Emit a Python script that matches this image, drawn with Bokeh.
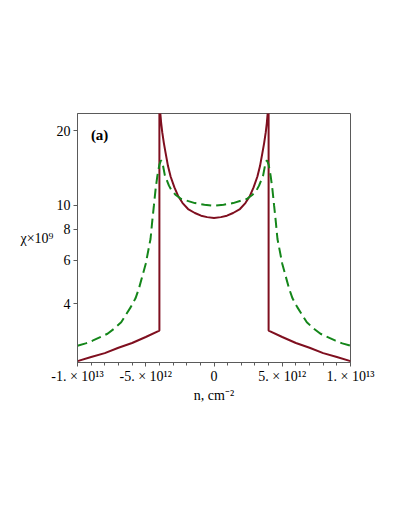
from bokeh.plotting import figure
from bokeh.models import Range1d, FixedTicker, Label, BasicTickFormatter
from bokeh.embed import file_html
from bokeh.resources import INLINE

# carrier density n in units of 1e12 cm^-2
red_n = [-10, -9, -8, -7, -6, -5, -4, -4, -3.93, -3.87, -3.79, -3.67, -3.54, -3.37,
         -3.18, -2.9, -2.63, -2.3, -1.9, -1.4, -0.95, -0.5, 0, 0.5, 0.95, 1.4, 1.9,
         2.3, 2.63, 2.9, 3.18, 3.37, 3.54, 3.67, 3.79, 3.87, 3.93, 4, 4, 5, 6, 7, 8, 9, 10]
red_chi = [2.34, 2.43, 2.52, 2.65, 2.77, 2.93, 3.11, 26, 23.4, 21.5, 19.7, 17.8, 16.2, 14.4,
           13.07, 11.8, 10.9, 10.2, 9.65, 9.3, 9.07, 8.95, 8.88, 8.95, 9.07, 9.3, 9.65,
           10.2, 10.9, 11.8, 13.07, 14.4, 16.2, 17.8, 19.7, 21.5, 23.4, 26, 3.11, 2.93, 2.77,
           2.65, 2.52, 2.43, 2.34]

green_n = [-10, -9.4, -8.9, -7.8, -7.3, -6.8, -6.1, -5.75, -5.5, -5.0, -4.65, -4.52, -4.4,
           -4.28, -4.15, -4.0, -3.88, -3.78, -3.6, -3.3, -3.1, -2.8, -2.4, -1.4, -0.7, 0,
           0.7, 1.4, 2.4, 2.8, 3.1, 3.3, 3.6, 3.78, 3.88, 4.0, 4.15, 4.28, 4.4, 4.52, 4.65,
           5.0, 5.5, 5.75, 6.1, 6.8, 7.3, 7.8, 8.9, 9.4, 10]
green_chi = [2.70, 2.76, 2.83, 3.02, 3.17, 3.36, 3.87, 4.2, 4.6, 5.8, 7.3, 8.66, 10.0,
             11.6, 13.15, 14.6, 15.2, 14.9, 13.2, 12.0, 11.45, 11.0, 10.6, 10.2, 10.05, 9.95,
             10.05, 10.2, 10.6, 11.0, 11.45, 12.0, 13.2, 14.9, 15.2, 14.6, 13.15, 11.6, 10.0,
             8.66, 7.3, 5.8, 4.6, 4.2, 3.87, 3.36, 3.17, 3.02, 2.83, 2.76, 2.70]

x_major = [-10, -5, 0, 5, 10]
x_minor = list(range(-10, 11))
x_labels = ["-1. × 10¹³", "-5. × 10¹²", "0", "5. × 10¹²", "1. × 10¹³"]
y_major = [4, 6, 8, 10, 20]

FONT = "Liberation Serif"
FRAME = "#5a5a5a"

p = figure(width=391, height=500, x_range=Range1d(-10, 10), y_range=Range1d(2.31, 23.5),
           y_axis_type="log", output_backend="svg", toolbar_location=None,
           min_border_left=77, min_border_right=41, min_border_top=113, min_border_bottom=138)
p.xgrid.visible = False
p.ygrid.visible = False
p.outline_line_color = FRAME
p.outline_line_width = 1
p.background_fill_color = "white"
p.border_fill_color = "white"

p.line(red_n, red_chi, line_color="#7f0f1f", line_width=2)
p.line(green_n, green_chi, line_color="#14861a", line_width=2, line_dash="10 5")

xa = p.xaxis[0]
xa.ticker = FixedTicker(ticks=x_major, minor_ticks=x_minor)
xa.major_label_overrides = {t: s for t, s in zip(x_major, x_labels)}
xa.axis_label = "n, cm⁻²"
ya = p.yaxis[0]
ya.ticker = FixedTicker(ticks=y_major, minor_ticks=[])
ya.formatter = BasicTickFormatter()
ya.axis_label = "χ×10⁹"
ya.axis_label_orientation = "horizontal"

for ax in (xa, ya):
    ax.axis_line_color = FRAME
    ax.major_tick_line_color = FRAME
    ax.minor_tick_line_color = FRAME
    ax.major_tick_in = 0
    ax.major_tick_out = 4
    ax.minor_tick_in = 0
    ax.minor_tick_out = 3
    ax.major_label_text_font = FONT
    ax.major_label_text_font_size = "14px"
    ax.major_label_text_color = "black"
    ax.axis_label_text_font = FONT
    ax.axis_label_text_font_size = "14px"
    ax.axis_label_text_font_style = "normal"
    ax.axis_label_text_color = "black"

xa.major_label_standoff = 2
xa.axis_label_standoff = 1
ya.major_label_standoff = 3
ya.axis_label_standoff = 0

p.add_layout(Label(x=-9.02, y=19.3, text="(a)", text_font=FONT, text_font_style="bold",
                   text_font_size="15px", text_color="black", text_align="left",
                   text_baseline="middle"))

open("out.html", "w").write(file_html(p, INLINE))
